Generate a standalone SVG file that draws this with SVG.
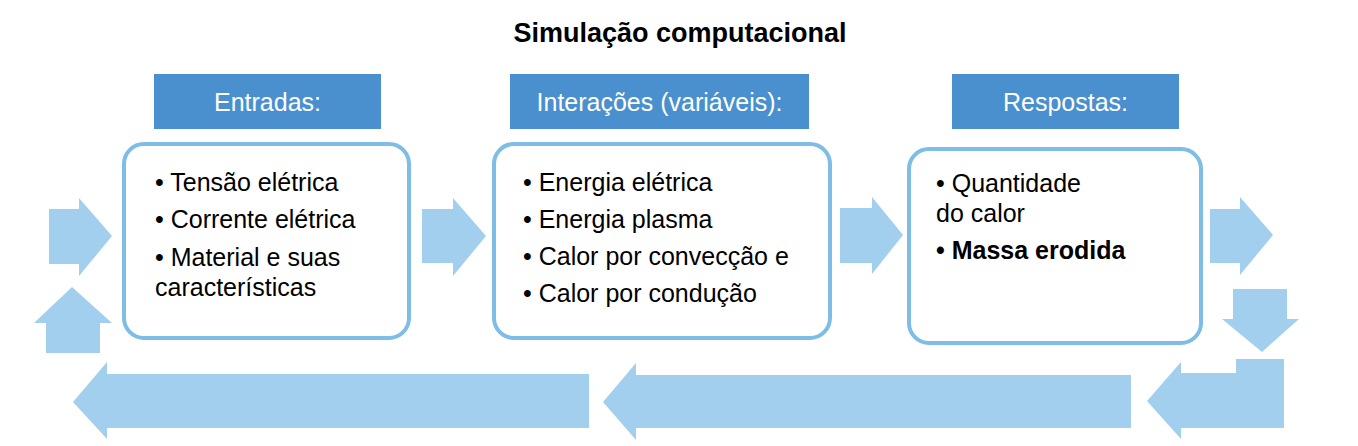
<svg xmlns="http://www.w3.org/2000/svg" width="1358" height="446" viewBox="0 0 1358 446">
<style>
.hdr{fill:#4a8fce}
.hdrt{fill:#ffffff;font-family:"Liberation Sans",Arial,sans-serif;font-size:25px;text-anchor:middle}
.box{fill:#ffffff;stroke:#7dbde6;stroke-width:4}
.t{fill:#000000;font-family:"Liberation Sans",Arial,sans-serif;font-size:25px}
.b{font-weight:bold}
.arr{fill:#a2cfee}
.title{fill:#000000;font-family:"Liberation Sans",Arial,sans-serif;font-size:27px;font-weight:bold;text-anchor:middle}
</style>
<rect width="1358" height="446" fill="#ffffff"/>
<text class="title" x="680" y="42">Simulação computacional</text>
<g id="connectors">
<polygon class="arr" points="49,209 79,209 79,198 112,236 79,276 79,264 49,264"/>
<polygon class="arr" points="46,353 46,323 34,323 72,287 112,323 100,323 100,353"/>
<polygon class="arr" points="422,209 453,209 453,198 486,236 453,276 453,263 422,263"/>
<polygon class="arr" points="840,208 872,208 872,197 903,235 872,274 872,263 840,263"/>
<polygon class="arr" points="1210,209 1240,209 1240,197 1273,235 1240,275 1240,263 1210,263"/>
<polygon class="arr" points="1233,289 1287,289 1287,319 1299,319 1262,352 1222,319 1233,319"/>
<polygon class="arr" points="1284,359 1236,359 1236,373 1181,373 1181,362 1147,401 1181,439 1181,428 1284,428"/>
<polygon class="arr" points="1131,375 636,375 636,363 603,402 636,440 636,428 1131,428"/>
<polygon class="arr" points="589,374 107,374 107,362 73,402 107,439 107,428 589,428"/>
</g>
<g id="entradas">
<rect class="hdr" x="154" y="74" width="227" height="55"/>
<text class="hdrt" x="267.5" y="111">Entradas:</text>
<rect class="box" x="124" y="144" width="285" height="194" rx="20"/>
<text class="t" x="155" y="191">• Tensão elétrica</text>
<text class="t" x="155" y="228">• Corrente elétrica</text>
<text class="t" x="155" y="266">• Material e suas</text>
<text class="t" x="155" y="296">características</text>
</g>
<g id="interacoes">
<rect class="hdr" x="510" y="74" width="299" height="55"/>
<text class="hdrt" x="659.5" y="111">Interações (variáveis):</text>
<rect class="box" x="494" y="144" width="336" height="194" rx="20"/>
<text class="t" x="523" y="191">• Energia elétrica</text>
<text class="t" x="523" y="228">• Energia plasma</text>
<text class="t" x="523" y="265">• Calor por convecção e</text>
<text class="t" x="523" y="302">• Calor por condução</text>
</g>
<g id="respostas">
<rect class="hdr" x="952" y="74" width="227" height="55"/>
<text class="hdrt" x="1065.5" y="111">Respostas:</text>
<rect class="box" x="909" y="149" width="292" height="194" rx="20"/>
<text class="t" x="936" y="192">• Quantidade</text>
<text class="t" x="936" y="222">do calor</text>
<text class="t b" x="936" y="259">• Massa erodida</text>
</g>
</svg>
